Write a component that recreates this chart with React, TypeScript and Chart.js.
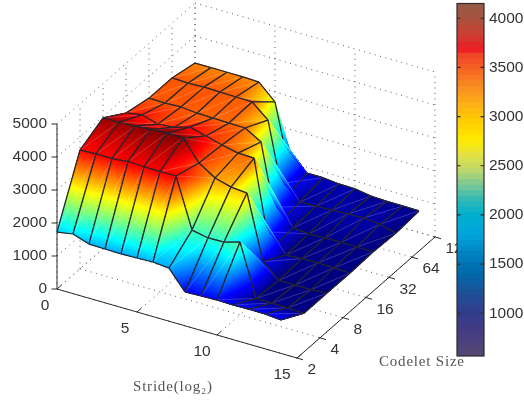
import React, { useEffect, useRef } from "react";
import { Chart, registerables } from "chart.js";

Chart.register(...registerables);

const strideTicks = [0, 5, 10, 15];
const codeletTicks = ["2", "4", "8", "16", "32", "64", "128"];
const zTicks = [0, 1000, 2000, 3000, 4000, 5000];
const colorbarTicks = [1000, 1500, 2000, 2500, 3000, 3500, 4000];
const strideSamples = [0, 1, 2, 3, 4, 5, 6, 7, 8, 9, 10, 11, 12, 13, 14];

const codelet2 = [1727, 1806, 1640, 1630, 1620, 1636, 1654, 1606, 1024, 1042, 1060, 1048, 1060, 1055, 1012];
const codelet4 = [3600, 3620, 3620, 3670, 3650, 3640, 3650, 2150, 2050, 2066, 2205, 640, 636, 630, 606];
const codelet8 = [3960, 3970, 3990, 4030, 4060, 4050, 3430, 3115, 2980, 2940, 1000, 575, 570, 570, 606];
const codelet16 = [3500, 3580, 3445, 3480, 3630, 3500, 3366, 3260, 3250, 1150, 590, 620, 630, 620, 600];
const codelet32 = [3340, 3330, 3350, 3300, 3290, 3280, 3270, 2985, 1150, 660, 620, 640, 640, 640, 630];
const codelet64 = [3340, 3320, 3340, 3330, 3320, 3310, 2900, 1130, 690, 710, 730, 750, 770, 720, 590];
const codelet128 = [3180, 3180, 3180, 3180, 3160, 2700, 1270, 820, 820, 770, 760, 680, 660, 660, 650];
const surface = [codelet2, codelet4, codelet8, codelet16, codelet32, codelet64, codelet128];

// where the mesh line of a steep wall lands, when it differs from the shaded vertex: [codelet row, stride, z]
const meshLineZ = [[6, 6, 565], [5, 7, 620], [4, 8, 610], [3, 9, 600]];
// stride-direction mesh segments that fade out part way: [codelet row, stride, drawn fraction]
const fadedStrideEdges = [[6, 5, 0.5], [5, 6, 0.56], [4, 7, 0.5], [3, 8, 0.69], [6, 6, 0], [5, 7, 0], [4, 8, 0], [3, 9, 0]];
// codelet-direction mesh segments that only start part way: [stride, codelet row, start fraction]
const fadedCodeletEdges = [[10, 1, 1], [9, 2, 1], [8, 3, 1], [7, 4, 1], [6, 5, 1], [9, 3, 0.35], [8, 4, 0.35], [7, 5, 0.25]];

const colorMin = 565;
const colorMax = 4150;
const surfaceColorMin = 600;
const surfaceColorMax = 4070;
const colorbarStops: [number, number, number, number][] = [
  [565, 85, 72, 115], [800, 70, 60, 130], [1000, 50, 60, 140], [1200, 30, 80, 150], [1400, 0, 105, 170],
  [1600, 0, 130, 190], [1800, 0, 165, 220], [2000, 0, 175, 205], [2150, 50, 185, 180], [2300, 120, 200, 150],
  [2450, 190, 215, 105], [2600, 225, 225, 70], [2750, 255, 235, 0], [2950, 255, 205, 0], [3100, 253, 180, 20],
  [3300, 248, 140, 35], [3500, 245, 95, 35], [3620, 240, 70, 40], [3680, 237, 28, 36], [3830, 205, 62, 50],
  [3980, 170, 82, 62], [4150, 148, 92, 72],
];
const colorbarBands = 64;

// axonometric projection of the 3-D box onto the page
const ORIGIN = { x: 57, y: 289 };
const STRIDE_VEC = { x: 16, y: 4.6 };
const CODELET_VEC = { x: 23, y: -20.17 };
const Z_SCALE = 165 / 5000;
const project = (s: number, c: number, z: number) => ({
  x: ORIGIN.x + s * STRIDE_VEC.x + c * CODELET_VEC.x,
  y: ORIGIN.y + s * STRIDE_VEC.y + c * CODELET_VEC.y - z * Z_SCALE,
});

const jet = (t: number) => {
  const f = (v: number) => Math.max(0, Math.min(1, v));
  const r = f(Math.min(4 * t - 1.5, -4 * t + 4.5));
  const g = f(Math.min(4 * t - 0.5, -4 * t + 3.5));
  const b = f(Math.min(4 * t + 0.5, -4 * t + 2.5));
  return `rgb(${Math.round(r * 255)},${Math.round(g * 255)},${Math.round(b * 255)})`;
};
const zColor = (z: number) => jet(Math.max(0, (z - surfaceColorMin) / (surfaceColorMax - surfaceColorMin)));

const barColor = (v: number) => {
  for (let i = 1; i < colorbarStops.length; i++) {
    const a = colorbarStops[i - 1];
    const b = colorbarStops[i];
    if (v <= b[0]) {
      const k = (v - a[0]) / (b[0] - a[0]);
      const m = (n: number) => Math.round(a[n] + (b[n] - a[n]) * k);
      return `rgb(${m(1)},${m(2)},${m(3)})`;
    }
  }
  return "rgb(148,92,72)";
};

type V = { x: number; y: number; z: number };

function shadeTriangle(ctx: CanvasRenderingContext2D, a: V, b: V, c: V) {
  const len = Math.max(Math.hypot(a.x - b.x, a.y - b.y), Math.hypot(b.x - c.x, b.y - c.y), Math.hypot(c.x - a.x, c.y - a.y));
  const n = Math.max(2, Math.min(60, Math.ceil(len / 1.6)));
  const at = (i: number, j: number): V => {
    const u = i / n;
    const v = j / n;
    const w = 1 - u - v;
    return { x: a.x * w + b.x * u + c.x * v, y: a.y * w + b.y * u + c.y * v, z: a.z * w + b.z * u + c.z * v };
  };
  ctx.lineWidth = 0.6;
  const tri = (p: V, q: V, r: V) => {
    const col = zColor((p.z + q.z + r.z) / 3);
    ctx.fillStyle = col;
    ctx.strokeStyle = col;
    ctx.beginPath();
    ctx.moveTo(p.x, p.y);
    ctx.lineTo(q.x, q.y);
    ctx.lineTo(r.x, r.y);
    ctx.closePath();
    ctx.fill();
    ctx.stroke();
  };
  for (let i = 0; i < n; i++) {
    for (let j = 0; j < n - i; j++) {
      tri(at(i, j), at(i + 1, j), at(i, j + 1));
      if (j < n - i - 1) tri(at(i + 1, j), at(i + 1, j + 1), at(i, j + 1));
    }
  }
}

const surfacePlugin = {
  id: "surface3d",
  afterDatasetsDraw(chart: any) {
    const ctx: CanvasRenderingContext2D = chart.ctx;
    const sx = chart.scales.x;
    const sy = chart.scales.y;
    const px = (s: number, c: number, z: number) => {
      const p = project(s, c, z);
      return { x: sx.getPixelForValue(p.x), y: sy.getPixelForValue(p.y), z };
    };
    const line = (a: { x: number; y: number }, b: { x: number; y: number }) => {
      ctx.beginPath();
      ctx.moveTo(a.x, a.y);
      ctx.lineTo(b.x, b.y);
      ctx.stroke();
    };
    ctx.save();

    // dotted walls and floor
    ctx.strokeStyle = "#5a5a5a";
    ctx.lineWidth = 1;
    ctx.setLineDash([1, 4.5]);
    const maxC = codeletTicks.length - 1;
    const maxS = 15;
    zTicks.forEach((z) => {
      line(px(0, 0, z), px(0, maxC, z));
      line(px(0, maxC, z), px(maxS, maxC, z));
    });
    codeletTicks.forEach((_, c) => {
      line(px(0, c, 0), px(0, c, 5000));
      line(px(0, c, 0), px(maxS, c, 0));
    });
    strideTicks.forEach((s) => {
      line(px(s, maxC, 0), px(s, maxC, 5000));
      line(px(s, 0, 0), px(s, maxC, 0));
    });
    ctx.setLineDash([]);

    // solid axes
    ctx.strokeStyle = "#2b2b2b";
    ctx.lineWidth = 1;
    line(px(0, 0, 0), px(0, 0, 5000));
    line(px(0, 0, 0), px(maxS, 0, 0));
    line(px(maxS, 0, 0), px(maxS, maxC, 0));
    zTicks.forEach((z) => {
      const p = px(0, 0, z);
      line({ x: p.x - 5.5, y: p.y }, p);
    });
    strideTicks.forEach((s) => {
      const p = px(s, 0, 0);
      line(p, { x: p.x + 4, y: p.y - 3.5 });
    });
    codeletTicks.forEach((_, c) => {
      const p = px(maxS, c, 0);
      line({ x: p.x - 1, y: p.y - 0.3 }, { x: p.x + 6, y: p.y + 1.8 });
    });

    // axis text
    ctx.fillStyle = "#333";
    ctx.font = "15.5px 'Liberation Sans'";
    ctx.textBaseline = "middle";
    ctx.textAlign = "right";
    zTicks.forEach((z) => {
      const p = px(0, 0, z);
      ctx.fillText(String(z), p.x - 10, p.y);
    });
    ctx.textAlign = "center";
    strideTicks.forEach((s) => {
      const p = px(s, 0, 0);
      ctx.fillText(String(s), p.x - (s < 10 ? 12 : 15), p.y + 16.5);
    });
    ctx.textAlign = "left";
    codeletTicks.forEach((label, c) => {
      const p = px(maxS, c, 0);
      ctx.fillText(label, p.x + 10.5, p.y + 12);
    });
    ctx.fillStyle = "#555";
    ctx.font = "15px 'Liberation Serif'";
    (ctx as any).letterSpacing = "0.8px";
    ctx.textBaseline = "alphabetic";
    ctx.fillText("Stride(log\u2082)", 133, 391);
    ctx.fillText("Codelet Size", 379, 366);
    (ctx as any).letterSpacing = "0px";

    // surface, far quads first
    const vertex = (s: number, c: number) => {
      const pt = chart.getDatasetMeta(c).data[s];
      return { x: pt.x, y: pt.y, z: surface[c][s] };
    };
    const lineVertex = (s: number, c: number) => {
      const o = meshLineZ.find((m) => m[0] === c && m[1] === s);
      return o ? px(s, c, o[2]) : vertex(s, c);
    };
    const mix = (a: any, b: any, t: number) => ({ x: a.x + (b.x - a.x) * t, y: a.y + (b.y - a.y) * t });
    const strideEdge = (s: number, c: number) => {
      const f = fadedStrideEdges.find((e) => e[0] === c && e[1] === s);
      const t = f ? f[2] : 1;
      if (t <= 0) return;
      const a = lineVertex(s, c);
      const b = lineVertex(s + 1, c);
      line(a, mix(a, b, t));
    };
    const codeletEdge = (s: number, c: number) => {
      const f = fadedCodeletEdges.find((e) => e[0] === s && e[1] === c);
      const t = f ? f[2] : 0;
      if (t >= 1) return;
      const a = lineVertex(s, c);
      const b = lineVertex(s, c + 1);
      line(mix(a, b, t), b);
    };
    for (let c = surface.length - 2; c >= 0; c--) {
      for (let s = 0; s < strideSamples.length - 1; s++) {
        const a = vertex(s, c);
        const b = vertex(s + 1, c);
        const d = vertex(s + 1, c + 1);
        const e = vertex(s, c + 1);
        shadeTriangle(ctx, a, b, d);
        shadeTriangle(ctx, a, d, e);
        ctx.strokeStyle = "rgba(255,255,255,0.34)";
        ctx.lineWidth = 0.6;
        line(a, d);
        ctx.strokeStyle = "#26262e";
        ctx.lineWidth = 1.25;
        strideEdge(s, c + 1);
        codeletEdge(s, c);
        codeletEdge(s + 1, c);
        strideEdge(s, c);
      }
    }
    ctx.restore();
  },
};

const colorbarPlugin = {
  id: "colorbarFrame",
  afterDatasetsDraw(chart: any) {
    const { ctx, chartArea: a, scales } = chart;
    ctx.save();
    ctx.strokeStyle = "#2e2a28";
    ctx.lineWidth = 1.2;
    ctx.strokeRect(a.left, a.top, a.right - a.left, a.bottom - a.top);
    colorbarTicks.forEach((v) => {
      const y = scales.y.getPixelForValue(v);
      ctx.beginPath();
      ctx.moveTo(a.left, y);
      ctx.lineTo(a.left + 3.5, y);
      ctx.moveTo(a.right, y);
      ctx.lineTo(a.right - 3.5, y);
      ctx.stroke();
    });
    ctx.restore();
  },
};

export default function App() {
  const mainRef = useRef<HTMLCanvasElement>(null);
  const barRef = useRef<HTMLCanvasElement>(null);

  useEffect(() => {
    const main = new Chart(mainRef.current!, {
      type: "scatter",
      data: {
        datasets: surface.map((row, c) => ({
          label: `Codelet ${codeletTicks[c]}`,
          data: row.map((z, i) => project(strideSamples[i], c, z)),
          pointRadius: 0,
          showLine: false,
        })),
      },
      options: {
        responsive: false,
        animation: false,
        events: [],
        layout: { padding: 0 },
        plugins: { legend: { display: false }, tooltip: { enabled: false } },
        scales: {
          x: { type: "linear", min: 0, max: 524, display: false },
          y: { type: "linear", min: 0, max: 400, reverse: true, display: false },
        },
      },
      plugins: [surfacePlugin],
    } as any);

    const step = (colorMax - colorMin) / colorbarBands;
    const bands = Array.from({ length: colorbarBands }, (_, i) => colorMin + i * step);
    const bar = new Chart(barRef.current!, {
      type: "bar",
      data: {
        labels: [""],
        datasets: bands.map((lo) => ({
          data: [[lo, lo + step + 1]],
          backgroundColor: barColor(lo + step / 2),
          borderWidth: 0,
          barPercentage: 1,
          categoryPercentage: 1,
          grouped: false,
        })),
      },
      options: {
        responsive: false,
        animation: false,
        events: [],
        layout: { padding: { left: 7, top: 3.5, bottom: 44, right: 0 } },
        plugins: { legend: { display: false }, tooltip: { enabled: false } },
        scales: {
          x: { display: false, grid: { display: false } },
          y: {
            position: "right",
            min: colorMin,
            max: colorMax,
            grid: { display: false, drawTicks: false, tickLength: 0 },
            border: { display: false },
            afterBuildTicks: (axis: any) => {
              axis.ticks = colorbarTicks.map((value) => ({ value }));
            },
            afterFit: (axis: any) => {
              axis.width = 40;
              axis.paddingTop = 0;
              axis.paddingBottom = 0;
            },
            ticks: {
              padding: 5,
              color: "#333",
              font: { family: "'Liberation Sans'", size: 15.5 },
              callback: (v: any) => String(v),
            },
          },
        },
      },
      plugins: [colorbarPlugin],
    } as any);

    return () => {
      main.destroy();
      bar.destroy();
    };
  }, []);

  return (
    <div style={{ position: "fixed", left: 0, top: 0, width: 524, height: 400, background: "#fff", overflow: "hidden" }}>
      <canvas ref={mainRef} width={524} height={400} style={{ position: "absolute", left: 0, top: 0 }} />
      <canvas ref={barRef} width={74} height={400} style={{ position: "absolute", left: 450, top: 0 }} />
    </div>
  );
}
